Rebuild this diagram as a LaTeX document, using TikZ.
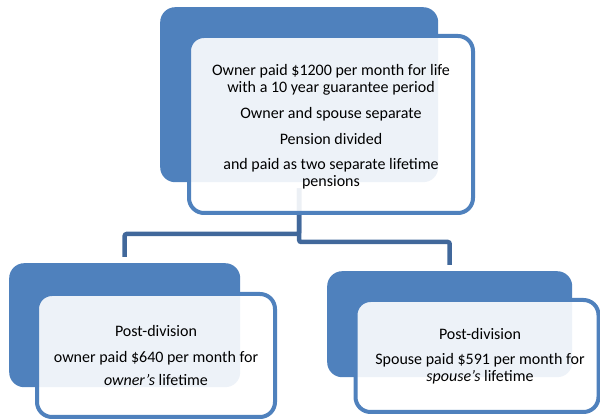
\documentclass[tikz,border=0pt]{standalone}
\usepackage{fontspec}
\setmainfont{Carlito}
\usetikzlibrary{calc}
\definecolor{backblue}{RGB}{79,129,189}
\definecolor{connblue}{RGB}{65,104,155}
\tikzset{
  backbox/.style={draw=none, fill=backblue, rounded corners=15pt, inner sep=0pt, anchor=north west},
  frontbox/.style={draw=backblue, line width=4pt, fill=white, fill opacity=0.9, text opacity=1,
     rounded corners=15pt, inner sep=0pt, align=center, font=\fontsize{16}{17}\selectfont},
  conn/.style={draw=connblue, line width=4.5pt, rounded corners=2pt, shorten <=6pt, shorten >=6pt},
}
\begin{document}
\begin{tikzpicture}[x=1pt,y=-1pt]
\useasboundingbox (0,0) rectangle (600,419);
% back boxes
\node[backbox, minimum width=278pt, minimum height=175pt] (topback) at (160,7) {};
\node[backbox, minimum width=231pt, minimum height=124pt] (leftback) at (9,263) {};
\node[backbox, minimum width=245pt, minimum height=106pt] (rightback) at (327,271) {};
% junction levels
\coordinate (lj) at (0,234);
\coordinate (rj) at (0,242);
% connectors
\draw[conn] (topback.south) -- (topback.south |- lj) -| (leftback.north);
\draw[conn] (topback.south) -- (topback.south |- rj) -| (rightback.north);
% front boxes
\node[frontbox, minimum width=284pt, minimum height=177pt] (topfront) at (331,124.5)
 {\\[-2pt]Owner paid \$1200 per month for life\\with a 10 year guarantee period\\[9pt]Owner and spouse separate\\[9pt]Pension divided\\[8pt]and paid as two separate lifetime\\pensions};
\node[frontbox, minimum width=238pt, minimum height=123pt] (leftfront) at (156,355.5)
 {Post-division\\[9pt]owner paid \$640 per month for\\[6pt]\textit{owner’s} lifetime};
\node[frontbox, minimum width=243pt, minimum height=112pt] (rightfront) at (477,356)
 {\hspace*{6pt}Post-division\\[8pt]\hspace*{6pt}Spouse paid \$591 per month for\\\hspace*{6pt}\textit{spouse’s} lifetime};
\end{tikzpicture}
\end{document}
